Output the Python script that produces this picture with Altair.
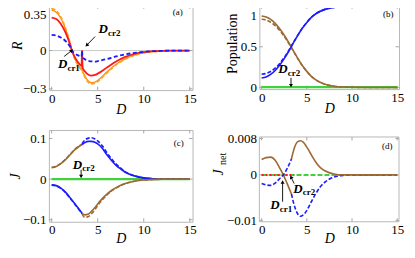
import math
import altair as alt
import pandas as pd

SERIF = "Liberation Serif"
BLUE = "#1c1cff"
RED = "#ff1a1a"
ORANGE = "#ffa31a"
ORANGE2 = "#ff8000"
BROWN = "#9c6a34"
GREEN = "#40d040"
FRAME = "#b8b8b8"
TICK = "#a8a8a8"

# ---------------- Panel (a): R vs D ----------------
a_D = [0, 0.5, 1.0, 1.5, 2.0, 2.2, 2.5, 3.0, 3.25, 3.3, 3.35, 3.6, 4.0, 4.3, 4.7,
       5.0, 6.0, 7.0, 8.0, 9.0, 10.0, 11.0, 12.0, 13.0, 15.0]
a_blue = [0.123, 0.118, 0.102, 0.075, 0.030, 0.0, -0.022, -0.042, -0.047, 0.0, -0.050,
          -0.068, -0.080, -0.085, -0.086, -0.083, -0.066, -0.046, -0.030, -0.018, -0.010,
          -0.005, -0.002, -0.001, 0.0]
a_red = [0.258, 0.247, 0.208, 0.142, 0.047, 0.0, -0.050, -0.105, -0.120, 0.0, -0.130,
         -0.162, -0.190, -0.196, -0.191, -0.181, -0.133, -0.085, -0.049, -0.025, -0.012,
         -0.005, -0.002, -0.001, 0.0]
a_orange = [0.328, 0.312, 0.262, 0.175, 0.058, 0.0, -0.064, -0.130, -0.150, 0.0, -0.162,
            -0.205, -0.250, -0.262, -0.256, -0.242, -0.174, -0.112, -0.066, -0.036, -0.018,
            -0.009, -0.004, -0.002, 0.0]
a_orange2 = [0.316, 0.301, 0.253, 0.169, 0.056, 0.0, -0.061, -0.125, -0.144, 0.0, -0.156,
             -0.197, -0.241, -0.253, -0.247, -0.234, -0.168, -0.108, -0.064, -0.035, -0.017,
             -0.008, -0.004, -0.002, 0.0]

# ---------------- Panel (b): Population vs D ----------------
b_D = [0, 0.5, 1, 1.5, 2, 2.5, 3, 3.5, 4, 4.5, 5, 5.5, 6, 7, 8, 9, 10, 12, 15]
b_blue = [0.117, 0.130, 0.160, 0.208, 0.275, 0.355, 0.445, 0.545, 0.640, 0.728, 0.800,
          0.862, 0.906, 0.960, 0.985, 0.995, 0.998, 1.0, 1.0]
b_blue_d = [0.163, 0.172, 0.196, 0.237, 0.295, 0.370, 0.455, 0.550, 0.643, 0.730, 0.801,
            0.862, 0.906, 0.960, 0.985, 0.995, 0.998, 1.0, 1.0]
b_brown = [0.878, 0.866, 0.836, 0.788, 0.722, 0.642, 0.552, 0.452, 0.358, 0.270, 0.198,
           0.137, 0.093, 0.040, 0.015, 0.005, 0.002, 0.0, 0.0]
b_brown_d = [0.838, 0.829, 0.802, 0.760, 0.702, 0.628, 0.544, 0.448, 0.355, 0.269, 0.198,
             0.137, 0.093, 0.040, 0.015, 0.005, 0.002, 0.0, 0.0]
b_green_D = [0, 15]
b_green = [0.004, 0.004]

# ---------------- Panel (c): J vs D ----------------
c_pre_D = [0, 0.5, 1, 1.5, 2, 2.5, 3, 3.3]
c_up_brown = [0.028, 0.031, 0.038, 0.048, 0.060, 0.072, 0.081, 0.085]
c_up_brown_d = [0.029, 0.032, 0.039, 0.049, 0.061, 0.073, 0.082, 0.086]
c_lo_blue = [-0.014, -0.016, -0.022, -0.032, -0.046, -0.060, -0.075, -0.084]
c_lo_blue_d = [-0.015, -0.017, -0.023, -0.033, -0.047, -0.061, -0.076, -0.085]
c_post_D = [3.3, 3.6, 4.0, 4.3, 4.7, 5.0, 5.5, 6.0, 6.5, 7.0, 7.5, 8.0, 9.0, 10.0, 11.0, 12.0, 15.0]
c_up_blue = [0.085, 0.090, 0.093, 0.093, 0.091, 0.087, 0.076, 0.060, 0.046, 0.034, 0.025,
             0.017, 0.008, 0.003, 0.001, 0.0, 0.0]
c_up_blue_d = [0.087, 0.096, 0.101, 0.102, 0.099, 0.094, 0.082, 0.065, 0.050, 0.037, 0.027,
               0.018, 0.008, 0.003, 0.001, 0.0, 0.0]
c_lo_brown = [-0.084, -0.088, -0.086, -0.080, -0.070, -0.061, -0.048, -0.037, -0.028, -0.021,
              -0.015, -0.011, -0.005, -0.002, -0.001, 0.0, 0.0]
c_lo_brown_d = [-0.086, -0.094, -0.092, -0.086, -0.075, -0.065, -0.051, -0.039, -0.029, -0.022,
                -0.016, -0.011, -0.005, -0.002, -0.001, 0.0, 0.0]
c_green_D = [0, 15]
c_green = [0.0, 0.0]

# ---------------- Panel (d): J_net vs D ----------------
d_pre_D = [0, 0.5, 1, 1.5, 2, 2.4, 2.8, 3.3]
d_brown_pre = [0.0034, 0.0038, 0.0039, 0.0032, 0.0015, 0.0, -0.0018, -0.0042]
d_blue_pre = [-0.0019, -0.0022, -0.0023, -0.0018, -0.0008, 0.0, 0.0013, 0.0035]
d_post_D = [3.3, 3.6, 4.0, 4.3, 4.6, 5.0, 5.5, 6.0, 6.5, 7.0, 8.0, 9.0, 10.0, 15.0]
d_brown_post = [0.0035, 0.0058, 0.0073, 0.0075, 0.0072, 0.0061, 0.0044, 0.0028, 0.0016,
                0.0009, 0.0002, 0.0, 0.0, 0.0]
d_blue_post = [-0.0042, -0.0066, -0.0086, -0.0091, -0.0088, -0.0078, -0.0059, -0.0041,
               -0.0026, -0.0016, -0.0005, -0.0001, 0.0, 0.0]
d_green_D = [0, 15]
d_green = [0.0, 0.0]
d_red_D = [0, 3.6]
d_red = [0.0, 0.0]

# ---------------- tick values ----------------
x_ticks = [0, 5, 10, 15]
a_yticks = [-0.3, 0, 0.35]
b_yticks = [0, 0.5, 1]
c_yticks = [-0.1, 0, 0.1]
d_yticks = [-0.01, 0, 0.008]

# ---------------- annotations (data coordinates) ----------------
# (label_D, label_v, subscript, tail_D, tail_v, tip_D, tip_v)
a_notes = [(5.1, 0.167, "cr2", 4.72, 0.110, 3.85, 0.045),
           (0.68, -0.107, "cr1", 1.36, -0.046, 2.12, -0.003)]
b_notes = [(1.85, 0.225, "cr2", 3.25, 0.118, 3.25, 0.030)]
c_notes = [(2.3, 0.036, "cr2", 3.2, 0.023, 3.2, 0.008)]
d_notes = [(0.96, -0.0067, "cr1", 2.32, -0.0059, 2.32, -0.0017),
           (3.5, -0.0031, "cr2", 3.6, -0.0019, 3.28, -0.0006)]

panel_tags = {"a": (13.7, 0.30), "b": (14.0, 0.90), "c": (13.8, 0.089), "d": (13.9, 0.0063)}


class Panel:
    def __init__(self, xd, yd, W, H, top=0):
        self.xd, self.yd, self.W, self.H, self.top = xd, yd, W, H, top

    def px(self, D):
        return (D - self.xd[0]) / (self.xd[1] - self.xd[0]) * self.W

    def py(self, v):
        return (self.yd[1] - v) / (self.yd[1] - self.yd[0]) * self.H


def make_layers(P, xaxis, yaxis, yticks, series, notes, tag, extra=None, zero_rule=False):
    xs = alt.Scale(domain=P.xd, nice=False, zero=False)
    ys = alt.Scale(domain=P.yd, nice=False, zero=False)

    def enc():
        return dict(x=alt.X("D:Q", scale=xs, axis=xaxis),
                    y=alt.Y("v:Q", scale=ys, axis=yaxis))

    layers = []
    if zero_rule:
        layers.append(alt.Chart(pd.DataFrame({"D": [P.xd[0], P.xd[1]], "v": [0, 0]}))
                      .mark_line(color="#c8c8c8", strokeWidth=1).encode(**enc()))
    # inward frame ticks (Mathematica style)
    xt = pd.DataFrame({"D": x_ticks})
    yt = pd.DataFrame({"v": yticks})
    layers.append(alt.Chart(xt).mark_rule(color=TICK, strokeWidth=1).encode(
        x=alt.X("D:Q", scale=xs, axis=xaxis), y=alt.value(P.H), y2=alt.value(P.H - 3.5)))
    layers.append(alt.Chart(xt).mark_rule(color=TICK, strokeWidth=1).encode(
        x=alt.X("D:Q", scale=xs, axis=xaxis), y=alt.value(P.top), y2=alt.value(P.top + 3.5)))
    layers.append(alt.Chart(yt).mark_rule(color=TICK, strokeWidth=1).encode(
        y=alt.Y("v:Q", scale=ys, axis=yaxis), x=alt.value(0), x2=alt.value(3.5)))
    layers.append(alt.Chart(yt).mark_rule(color=TICK, strokeWidth=1).encode(
        y=alt.Y("v:Q", scale=ys, axis=yaxis), x=alt.value(P.W - 3.5), x2=alt.value(P.W)))
    for D, V, color, dash, width in series:
        kw = dict(color=color, strokeWidth=width, interpolate="monotone")
        if dash:
            kw["strokeDash"] = dash
        layers.append(alt.Chart(pd.DataFrame({"D": D, "v": V})).mark_line(**kw).encode(**enc()))
    for (lx, lv, sub, tD, tv, hD, hv) in notes:
        df = pd.DataFrame({"D": [lx], "v": [lv]})
        layers.append(alt.Chart(df).mark_text(text="D", font=SERIF, fontStyle="italic",
                                              fontWeight="bold", fontSize=13, align="left",
                                              baseline="middle", color="black").encode(**enc()))
        layers.append(alt.Chart(df).mark_text(text=sub, font=SERIF, fontWeight="bold",
                                              fontSize=9, align="left", baseline="middle",
                                              dx=9.5, dy=3.5, color="black").encode(**enc()))
        dxp = P.px(hD) - P.px(tD)
        dyp = P.py(hv) - P.py(tv)
        ang = math.degrees(math.atan2(dxp, -dyp)) % 360
        rdf = pd.DataFrame({"D": [tD], "v": [tv], "D2": [hD], "v2": [hv]})
        layers.append(alt.Chart(rdf).mark_rule(color="black", strokeWidth=0.9)
                      .encode(**enc(), x2="D2:Q", y2="v2:Q"))
        layers.append(alt.Chart(pd.DataFrame({"D": [hD], "v": [hv]}))
                      .mark_point(shape="triangle", filled=True, size=16, color="black",
                                  opacity=1, angle=round(ang, 1)).encode(**enc()))
    tx, tv = panel_tags[tag]
    layers.append(alt.Chart(pd.DataFrame({"D": [tx], "v": [tv]}))
                  .mark_text(text="(" + tag + ")", font=SERIF, fontSize=9, color="black",
                             align="center", baseline="middle").encode(**enc()))
    if extra:
        layers.extend(extra)
    return layers


def xaxis_for(titleY):
    return alt.Axis(values=x_ticks, title="D", titleFontStyle="italic",
                    titleBaseline="alphabetic", titleY=titleY, labelPadding=2,
                    labelFlush=False)


LABEL_EXPR = "replace(toString(datum.value), '-', '\u2212')"


def top_offset(topval):
    return {"condition": {"test": "datum.value == %s" % topval, "value": 9}, "value": 0}


# ---- (a)
PA = Panel([-0.3, 15.3], [-0.31, 0.355], 144, 85)
ya = alt.Axis(values=a_yticks, title="R", titleFontStyle="italic", titleX=-31,
              titleY=40, titleAngle=270, titleBaseline="middle", labelExpr=LABEL_EXPR,
              labelPadding=3, labelOffset=top_offset(0.35))
A = alt.layer(*make_layers(PA, xaxis_for(23), ya, a_yticks, [
    (a_D, a_orange2, ORANGE2, None, 1.2),
    (a_D, a_orange, ORANGE, [4, 2], 1.8),
    (a_D, a_red, RED, None, 1.8),
    (a_D, a_blue, BLUE, [4, 2.5], 1.8),
], a_notes, "a", zero_rule=True)).properties(width=PA.W, height=PA.H)

# ---- (b)
PB = Panel([-0.25, 15.2], [-0.02, 1.01], 140, 84)
yb = alt.Axis(values=b_yticks, title="Population", titleX=-27, titleY=38, titleAngle=270,
              titleBaseline="middle", labelExpr=LABEL_EXPR, labelPadding=3,
              labelOffset=top_offset(1))
B = alt.layer(*make_layers(PB, xaxis_for(23), yb, b_yticks, [
    (b_green_D, b_green, GREEN, None, 2.2),
    (b_D, b_brown, BROWN, None, 1.6),
    (b_D, b_brown_d, BROWN, [4, 2], 1.6),
    (b_D, b_blue, BLUE, None, 1.6),
    (b_D, b_blue_d, BLUE, [4, 2], 1.6),
], b_notes, "b")).properties(width=PB.W, height=PB.H)

# ---- (c)
PC = Panel([-0.3, 15.3], [-0.105, 0.121], 144, 92)
yc = alt.Axis(values=c_yticks, title="J", titleFontStyle="italic", titleX=-33,
              titleAngle=270, titleBaseline="middle", labelExpr=LABEL_EXPR, labelPadding=3)
C = alt.layer(*make_layers(PC, xaxis_for(21), yc, c_yticks, [
    (c_green_D, c_green, GREEN, None, 2.4),
    (c_pre_D, c_up_brown, BROWN, None, 1.6),
    (c_pre_D, c_up_brown_d, BROWN, [4, 2], 1.6),
    (c_pre_D, c_lo_blue, BLUE, None, 1.6),
    (c_pre_D, c_lo_blue_d, BLUE, [4, 2], 1.6),
    (c_post_D, c_up_blue, BLUE, None, 1.6),
    (c_post_D, c_up_blue_d, BLUE, [4, 2], 1.6),
    (c_post_D, c_lo_brown, BROWN, None, 1.6),
    (c_post_D, c_lo_brown_d, BROWN, [4, 2], 1.6),
], c_notes, "c")).properties(width=PC.W, height=PC.H)

# ---- (d): view 92 tall (top aligned with c), frame drawn 7 px lower
PD = Panel([-0.25, 15.2], [-0.0103, 0.00987], 140, 92, top=7)
yd = alt.Axis(values=d_yticks, title="J", titleFontStyle="italic", titleX=-41,
              titleY=42, titleAngle=270, titleBaseline="middle", labelExpr=LABEL_EXPR,
              labelPadding=3)
one = pd.DataFrame({"k": [0]})
d_extra = [
    alt.Chart(one).mark_text(text="net", font=SERIF, fontSize=10, angle=270, color="black",
                             align="center", baseline="middle")
    .encode(x=alt.value(-36), y=alt.value(29)),
    alt.Chart(one).mark_rect(fill="transparent", stroke=FRAME, strokeWidth=1)
    .encode(x=alt.value(0), x2=alt.value(140), y=alt.value(7), y2=alt.value(92)),
]
Dp = alt.layer(*make_layers(PD, xaxis_for(21), yd, d_yticks, [
    (d_green_D, d_green, GREEN, [5, 2], 2.0),
    (d_red_D, d_red, RED, [2, 2], 2.0),
    (d_pre_D, d_brown_pre, BROWN, None, 1.6),
    (d_post_D, d_blue_post, BLUE, [4, 2], 1.6),
    (d_pre_D, d_blue_pre, BLUE, [4, 2], 1.6),
    (d_post_D, d_brown_post, BROWN, None, 1.6),
], d_notes, "d", extra=d_extra)).properties(width=PD.W, height=PD.H,
                                             view=alt.ViewBackground(stroke=None))

chart = alt.concat(A, B, C, Dp, columns=2, align="each", bounds="flush",
                   spacing={"row": 40, "column": 67}).properties(
    padding={"left": 0, "top": -6, "right": 2, "bottom": 2}
).configure_view(stroke=FRAME, strokeWidth=1).configure_axis(
    grid=False, domain=False, ticks=False, labelFont=SERIF, labelFontSize=13,
    labelColor="black", titleFont=SERIF, titleFontSize=14, titleColor="black",
    titleFontWeight="normal"
)

chart.save("out.html", embed_options={"renderer": "svg", "actions": False})
